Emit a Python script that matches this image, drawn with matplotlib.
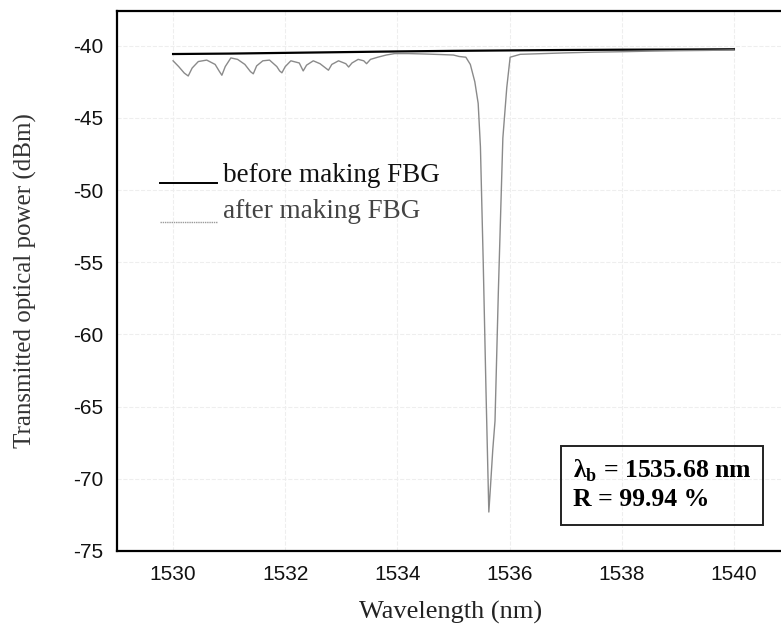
import matplotlib
matplotlib.use("Agg")
import matplotlib.pyplot as plt
from matplotlib.patches import Rectangle

# transmission before writing the grating (nm, dBm)
wl_before = [1530.0, 1531.0, 1532.0, 1533.0, 1534.0, 1535.0, 1536.0, 1537.0, 1538.0, 1539.0, 1540.0]
p_before = [-40.58, -40.55, -40.5, -40.45, -40.4, -40.36, -40.33, -40.3, -40.28, -40.27, -40.25]

# transmission after writing the grating (nm, dBm)
wl_after = [1530.00, 1530.10, 1530.20, 1530.27, 1530.34, 1530.45, 1530.60, 1530.75, 1530.82, 1530.87,
            1530.93, 1531.03, 1531.15, 1531.28, 1531.38, 1531.43, 1531.49, 1531.60, 1531.72, 1531.85,
            1531.90, 1531.94, 1532.00, 1532.10, 1532.25, 1532.32, 1532.38, 1532.50, 1532.62, 1532.72,
            1532.77, 1532.83, 1532.95, 1533.08, 1533.13, 1533.19, 1533.30, 1533.40, 1533.45, 1533.52,
            1533.65, 1533.80, 1533.95, 1534.20, 1534.50, 1534.80, 1535.00, 1535.10, 1535.22, 1535.30,
            1535.38, 1535.44, 1535.48, 1535.53, 1535.58, 1535.61, 1535.63, 1535.66, 1535.70, 1535.74,
            1535.80, 1535.88, 1535.95, 1536.01, 1536.19, 1536.60, 1537.00, 1537.50, 1538.00, 1538.50,
            1539.00, 1539.50, 1540.00]
p_after = [-41.05, -41.45, -41.90, -42.10, -41.55, -41.10, -41.00, -41.30, -41.75, -42.05,
           -41.45, -40.85, -40.95, -41.30, -41.80, -41.95, -41.40, -41.05, -41.00, -41.45,
           -41.75, -41.88, -41.45, -41.05, -41.20, -41.75, -41.35, -41.05, -41.25, -41.55,
           -41.70, -41.30, -41.05, -41.25, -41.48, -41.20, -40.95, -41.05, -41.25, -40.95,
           -40.80, -40.65, -40.55, -40.55, -40.58, -40.62, -40.65, -40.75, -40.80, -41.30,
           -42.50, -44.00, -47.00, -55.00, -64.00, -69.00, -72.30, -70.50, -68.00, -66.00,
           -57.00, -46.40, -42.90, -40.80, -40.60, -40.55, -40.50, -40.45, -40.42, -40.38,
           -40.35, -40.33, -40.30]

xticks = [1530, 1532, 1534, 1536, 1538, 1540]
yticks = [-40, -45, -50, -55, -60, -65, -70, -75]

plt.rcParams["axes.unicode_minus"] = False
plt.rcParams["mathtext.fontset"] = "custom"
plt.rcParams["mathtext.rm"] = "Liberation Serif"
plt.rcParams["mathtext.bf"] = "Liberation Serif:bold"

fig = plt.figure(figsize=(7.81, 6.31), dpi=100)
# right spine lies just outside the scanned image
ax = fig.add_axes([117 / 781, (631 - 551) / 631, 673 / 781, 540 / 631])

ax.plot(wl_before, p_before, color="black", lw=1.6, zorder=3)
ax.plot(wl_after, p_after, color="#8a8a8a", lw=1.0, zorder=4)

ax.set_xlim(1529.0, 1541.0)
ax.set_ylim(-75.0, -37.6)
ax.set_xticks(xticks)
ax.set_yticks(yticks)
ax.tick_params(length=0, labelsize=15, pad=10, colors="#111111")
for lab in ax.get_xticklabels() + ax.get_yticklabels():
    lab.set_family("Liberation Sans")
ax.tick_params(axis="x", pad=10)
ax.grid(True, color="#eeeeee", lw=0.8, ls="--")
for s in ax.spines.values():
    s.set_linewidth(1.6)
ax.spines["right"].set_visible(False)

ax.set_xlabel("Wavelength (nm)", family="Liberation Serif", fontsize=19, color="#222222")
ax.set_ylabel("Transmitted optical power (dBm)", family="Liberation Serif", fontsize=18,
              color="#333333")
ax.xaxis.set_label_coords(0.495, -0.092)
ax.yaxis.set_label_coords(-0.119, 0.5)

# hand-drawn legend
ax.plot([0.064, 0.149], [0.681, 0.681], transform=ax.transAxes, color="black", lw=1.4)
ax.text(0.158, 0.696, "before making FBG", transform=ax.transAxes, va="center",
        family="Liberation Serif", fontsize=19.5, color="#111111")
ax.plot([0.064, 0.149], [0.609, 0.609], transform=ax.transAxes, color="#9a9a9a", lw=1.0,
        ls=(0, (1, 0.6)))
ax.text(0.158, 0.628, "after making FBG", transform=ax.transAxes, va="center",
        family="Liberation Serif", fontsize=19.5, color="#444444")

# Bragg wavelength / reflectivity box
ax.add_patch(Rectangle((0.66, 0.048), 0.30, 0.146, transform=ax.transAxes, fill=False,
                       lw=1.4, edgecolor="#222222", zorder=6))
ax.text(0.677, 0.148, "λ$_\\mathbf{b}$ = 1535.68 nm", transform=ax.transAxes, va="center",
        family="Liberation Serif", fontweight="bold", fontsize=18.5, zorder=7)
ax.text(0.677, 0.096, "R = 99.94 %", transform=ax.transAxes, va="center",
        family="Liberation Serif", fontweight="bold", fontsize=18.5, zorder=7)

fig.savefig("out.png", dpi=100)
